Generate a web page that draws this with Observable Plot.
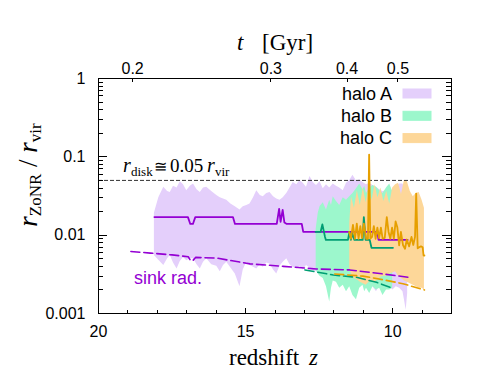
<!DOCTYPE html>
<html><head><meta charset="utf-8">
<script src="https://cdn.jsdelivr.net/npm/d3@7"></script>
<script src="https://cdn.jsdelivr.net/npm/@observablehq/plot@0.6"></script>
<style>
body{margin:0;background:#fff;}
#chart{position:relative;width:491px;height:392px;}
</style></head><body><div id="chart"></div>
<script>
// ---------- data ----------
const xTickVals = [20, 15, 10];
const xTickLabels = ["20", "15", "10"];
const yTickVals = [0.001, 0.01, 0.1, 1];
const yTickLabels = ["0.001", "0.01", "0.1", "1"];
const tLabels = ["0.2", "0.3", "0.4", "0.5"];
const tTicksZ = [18.84, 14.14, 11.55, 9.82];
const diskRatio = 0.05;

// halo A band
const zA = [18.1,17.95,17.78,17.65,17.56,17.45,17.33,17.22,17.11,17.0,16.88,16.77,16.65,16.54,16.43,16.32,16.15,15.98,15.86,15.75,15.64,15.5,15.35,15.19,15.08,14.96,14.85,14.73,14.62,14.5,14.4,14.28,14.17,14.05,13.94,13.83,13.72,13.6,13.49,13.38,13.26,13.15,13.04,12.93,12.81,12.7,12.59,12.47,12.36,12.25,12.14,12.02,11.91,11.8,11.68,11.57,11.46,11.35,11.23,11.12,11.01,10.89,10.78,10.67,10.55,10.44,10.33,10.21,10.1,9.99,9.88,9.76,9.65,9.6,9.54,9.49];
const hiA = [0.019,0.030,0.041,0.036,0.035,0.042,0.040,0.048,0.044,0.037,0.042,0.045,0.038,0.035,0.040,0.041,0.036,0.032,0.030,0.029,0.028,0.025,0.023,0.021,0.023,0.024,0.025,0.030,0.037,0.032,0.031,0.034,0.035,0.031,0.029,0.028,0.030,0.034,0.040,0.047,0.044,0.050,0.046,0.041,0.056,0.047,0.043,0.048,0.039,0.044,0.040,0.045,0.042,0.040,0.037,0.046,0.050,0.058,0.049,0.051,0.047,0.044,0.046,0.043,0.041,0.038,0.036,0.037,0.034,0.038,0.042,0.045,0.045,0.040,0.033,0.028];
const loA = [0.0055,0.0048,0.0041,0.0050,0.0055,0.0044,0.0037,0.0046,0.0052,0.0047,0.0050,0.0050,0.0042,0.0037,0.0045,0.0050,0.0042,0.0040,0.0034,0.0041,0.0045,0.0038,0.0032,0.0022,0.0036,0.0045,0.0041,0.0039,0.0037,0.0042,0.0039,0.0044,0.0043,0.0036,0.0032,0.0040,0.0045,0.0050,0.0042,0.0039,0.0037,0.0040,0.0036,0.0041,0.0038,0.0035,0.0034,0.0032,0.0031,0.0030,0.0028,0.0030,0.0029,0.0027,0.0029,0.0026,0.0028,0.0025,0.0027,0.0024,0.0026,0.0023,0.0025,0.0022,0.0019,0.0023,0.0021,0.0024,0.0022,0.0020,0.0022,0.0021,0.0019,0.0015,0.0011,0.0018];

// halo B band
const zB = [12.6,12.53,12.47,12.36,12.25,12.14,12.08,12.02,11.91,11.8,11.68,11.57,11.46,11.35,11.23,11.12,11.01,10.95,10.89,10.78,10.67,10.55,10.44,10.33,10.21,10.1,10.0];
const hiB = [0.012,0.019,0.023,0.026,0.021,0.028,0.024,0.031,0.027,0.024,0.030,0.028,0.031,0.034,0.039,0.045,0.038,0.042,0.034,0.040,0.043,0.041,0.037,0.034,0.040,0.045,0.036];
const loB = [0.0036,0.0032,0.0030,0.0028,0.0022,0.0014,0.0021,0.0026,0.0025,0.0021,0.0023,0.0019,0.0022,0.0017,0.0015,0.0021,0.0023,0.0019,0.0021,0.0018,0.0022,0.0020,0.0021,0.0017,0.0020,0.0020,0.0021];

// halo C band
const zC = [11.46,11.4,11.3,11.2,11.1,11.0,10.9,10.8,10.7,10.6,10.5,10.4,10.3,10.2,10.1,10.0,9.9,9.8,9.7,9.6,9.5,9.4,9.3,9.2,9.1,9.0,8.92];
const hiC = [0.014,0.031,0.022,0.037,0.024,0.040,0.026,0.042,0.028,0.044,0.030,0.040,0.027,0.036,0.025,0.040,0.044,0.046,0.033,0.050,0.048,0.036,0.031,0.034,0.035,0.028,0.022];
const loC = [0.0037,0.0032,0.0028,0.0027,0.0025,0.0024,0.0023,0.0025,0.0026,0.0025,0.0027,0.0029,0.0030,0.0030,0.0032,0.0033,0.0034,0.0030,0.0028,0.0026,0.0025,0.0024,0.0023,0.0022,0.0021,0.0021,0.0020];

// median lines
const zLA = [18.1,16.96,16.88,16.79,16.71,15.43,15.36,13.94,13.86,13.81,13.74,13.68,13.6,13.09,13.04,10.52,10.48,9.49];
const vLA = [0.017,0.017,0.0139,0.0139,0.017,0.017,0.0139,0.0139,0.0217,0.0148,0.021,0.0145,0.0139,0.0139,0.011,0.011,0.0087,0.0087];
const zLB = [12.62,12.45,12.39,12.3,12.27,11.52,11.47,11.42,11.37,11.3,11.02,10.98,10.92,10.78,10.72,9.99];
const vLB = [0.011,0.011,0.0137,0.0095,0.0087,0.0087,0.011,0.0087,0.0105,0.0087,0.0087,0.017,0.0087,0.0087,0.0069,0.0069];
const zLC = [11.48,11.42,11.35,11.28,11.22,11.16,11.1,11.04,10.98,10.9,10.84,10.8,10.76,10.7,10.64,10.58,10.52,10.46,10.4,10.34,10.27,10.2,10.14,10.08,10.02,9.96,9.9,9.84,9.78,9.72,9.65,9.58,9.52,9.44,9.36,9.3,9.24,9.2,9.15,9.1,9.04,8.98,8.95,8.92];
const vLC = [0.011,0.009,0.0135,0.009,0.014,0.009,0.013,0.0092,0.014,0.009,0.009,0.107,0.009,0.0095,0.013,0.009,0.0125,0.0092,0.0125,0.009,0.0092,0.017,0.011,0.009,0.0125,0.009,0.015,0.0125,0.0074,0.011,0.0075,0.0067,0.0088,0.0072,0.0095,0.0075,0.0095,0.034,0.0068,0.007,0.0072,0.007,0.0055,0.0055];

// sink radius
const zSA = [18.9,18.24,17.5,16.95,16.88,16.8,16.7,15.98,14.85,13.72,12.59,11.46,10.33,9.48];
const vSA = [0.0062,0.0059,0.0056,0.0053,0.0048,0.0047,0.0052,0.0051,0.0043,0.0040,0.0037,0.0036,0.0032,0.0029];
const zSB = [12.98,12.02,11.23,10.55,9.99];
const vSB = [0.0036,0.0031,0.0029,0.0025,0.0021];
const zSC = [11.97,11.01,10.33,9.65,8.92];
const vSC = [0.0032,0.0030,0.0027,0.0024,0.0020];

const haloNames = ["halo A", "halo B", "halo C"];

// ---------- styles ----------
const lineCol = ["#9400d3", "#009e73", "#e69f00"];
const fillCol = ["#e4cffb", "#9cf7cc", "#fdd799"];
const SANS = "'Liberation Sans', Arial, Helvetica, sans-serif";
const SERIF = "'Liberation Serif', 'Times New Roman', Times, serif";

const band = (z, lo, hi) => z.map((d, i) => ({z: d, lo: lo[i], hi: hi[i]}));
const series = (z, v) => z.map((d, i) => ({z: d, v: v[i]}));

const chart = Plot.plot({
  width: 491, height: 392,
  marginLeft: 98, marginRight: 40, marginTop: 78, marginBottom: 79,
  style: {fontFamily: SANS, fontSize: "16px", color: "#000", background: "#fff", overflow: "visible"},
  x: {domain: [20, 8]},
  y: {type: "log", domain: [0.001, 1]},
  marks: [
    Plot.areaY(band(zA, loA, hiA), {x: "z", y1: "lo", y2: "hi", fill: fillCol[0]}),
    Plot.areaY(band(zB, loB, hiB), {x: "z", y1: "lo", y2: "hi", fill: fillCol[1]}),
    Plot.areaY(band(zC, loC, hiC), {x: "z", y1: "lo", y2: "hi", fill: fillCol[2]}),
    Plot.ruleY([diskRatio], {stroke: "#333", strokeWidth: 1, strokeDasharray: "4,2"}),
    Plot.line(series(zSA, vSA), {x: "z", y: "v", stroke: lineCol[0], strokeWidth: 1.6, strokeDasharray: "9,4"}),
    Plot.line(series(zSB, vSB), {x: "z", y: "v", stroke: lineCol[1], strokeWidth: 1.6, strokeDasharray: "9,4"}),
    Plot.line(series(zSC, vSC), {x: "z", y: "v", stroke: lineCol[2], strokeWidth: 1.6, strokeDasharray: "9,4"}),
    Plot.line(series(zLA, vLA), {x: "z", y: "v", stroke: lineCol[0], strokeWidth: 1.8}),
    Plot.line(series(zLB, vLB), {x: "z", y: "v", stroke: lineCol[1], strokeWidth: 1.8}),
    Plot.line(series(zLC, vLC), {x: "z", y: "v", stroke: lineCol[2], strokeWidth: 1.8}),
    Plot.frame({stroke: "#000", strokeWidth: 1}),
    Plot.axisX(xTickVals, {anchor: "bottom", tickSize: 0, tickPadding: 12, label: null,
      tickFormat: d => xTickLabels[xTickVals.indexOf(d)]}),
    Plot.axisX(tTicksZ, {anchor: "top", tickSize: 0, tickPadding: 5, label: null,
      tickFormat: d => tLabels[tTicksZ.indexOf(d)]}),
    Plot.axisY(yTickVals, {anchor: "left", tickSize: 0, tickPadding: 13, label: null,
      tickFormat: d => yTickLabels[yTickVals.indexOf(d)]})
  ]
});
document.getElementById("chart").appendChild(chart);

// ---------- inward ticks, drawn through the plot's scales ----------
const sx = chart.scale("x"), sy = chart.scale("y");
const X = v => sx.apply(v), Y = v => sy.apply(v);
const [xl, xr] = sx.range;
const yb = Y(yTickVals[0]), yt = Y(yTickVals[yTickVals.length - 1]);
const svg = d3.select(chart);
const tg = svg.append("g").attr("stroke", "#000").attr("stroke-width", 1).attr("fill", "none");
const seg = (x1, y1, x2, y2) => tg.append("line").attr("x1", x1).attr("y1", y1).attr("x2", x2).attr("y2", y2);
for (let k = 0; k < yTickVals.length - 1; k++) {
  const dec = yTickVals[k];
  for (let m = 1; m <= 9; m++) {
    const yy = Math.round(Y(m * dec)) + 0.5;
    const len = m === 1 ? 9 : 5;
    seg(xl, yy, xl + len, yy);
    seg(xr, yy, xr - len, yy);
  }
}
for (let z = 9; z <= 20; z++) {
  const xx = Math.round(X(z)) + 0.5;
  const len = z % 5 === 0 ? 5 : 3;
  seg(xx, yb, xx, yb - len);
}
tTicksZ.forEach(z => { const xx = Math.round(X(z)) + 0.5; seg(xx, yt, xx, yt + 4); });

// ---------- titles and annotations ----------
const txt = svg.append("g").attr("fill", "#000").attr("text-anchor", "start");
const put = (s, x, y, size, opts = {}) => {
  const t = txt.append("text").attr("x", x).attr("y", y)
    .attr("font-family", opts.family || SERIF).attr("font-size", size)
    .attr("text-anchor", opts.anchor || "start").text(s);
  if (opts.italic) t.attr("font-style", "italic");
  if (opts.fill) t.attr("fill", opts.fill);
  return t;
};
// top axis title
put("t", 237, 50, 23, {italic: true});
put("[Gyr]", 262, 50, 23);
// bottom axis title
put("redshift", 229, 365, 23);
put("z", 309, 365, 23, {italic: true});
// y axis title
const yl = txt.append("text").attr("font-family", SERIF).attr("font-size", 27)
  .attr("text-anchor", "middle").attr("transform", "translate(37,175) rotate(-90)");
yl.append("tspan").attr("font-style", "italic").text("r");
yl.append("tspan").attr("font-size", 17).attr("dy", 4).text("ZoNR");
yl.append("tspan").attr("dy", -4).text(" / ");
yl.append("tspan").attr("font-style", "italic").text("r");
yl.append("tspan").attr("font-size", 17).attr("dy", 4).text("vir");
// disk annotation
put("r", 123, 172, 20, {italic: true});
put("disk", 131, 176, 13);
put("\u2245", 154, 172, 16);
put("0.05", 170, 172, 19);
put("r", 207, 172, 20, {italic: true});
put("vir", 215, 176, 13);
// sink radius label
put("sink rad.", 134, 284, 18, {family: SANS, fill: lineCol[0]});
// legend
haloNames.forEach((name, i) => {
  const base = 99.5 + i * 22.3;
  put(name, 392, base, 18, {family: SANS, anchor: "end"});
  txt.append("rect").attr("x", 403).attr("y", base - 10.5).attr("width", 28).attr("height", 9)
    .attr("fill", fillCol[i]).attr("stroke", fillCol[i]).attr("stroke-width", 1);
});
</script></body></html>
